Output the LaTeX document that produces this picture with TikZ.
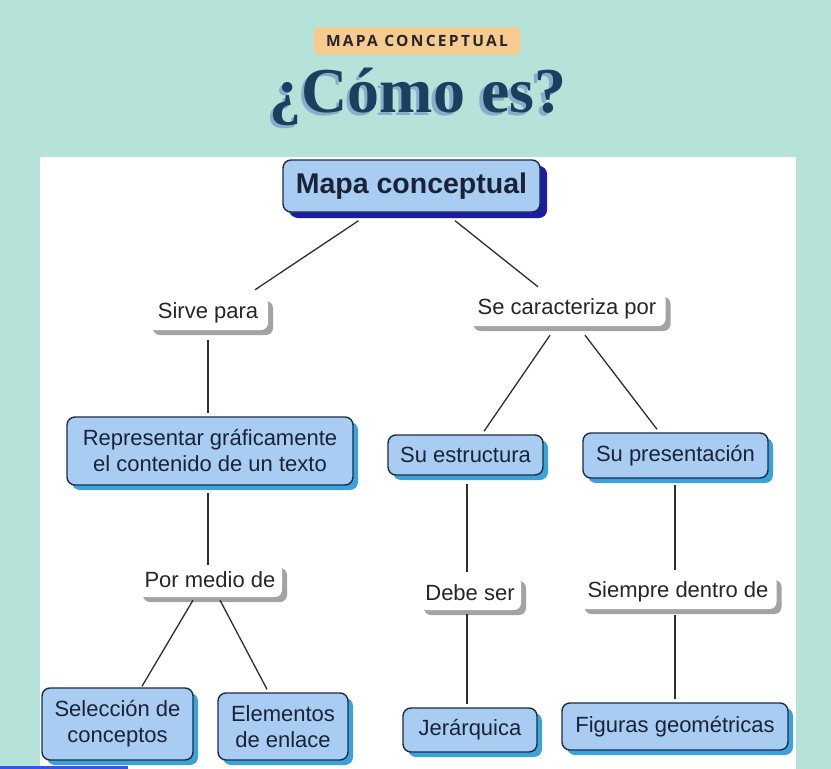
\documentclass[tikz,border=0pt]{standalone}
\usepackage{fontspec}
\setmainfont{Liberation Sans}
\newfontfamily\titlefont{Liberation Serif}
\newfontfamily\badgefont[LetterSpace=15]{Open Sans}
\usetikzlibrary{shadows}
\definecolor{mint}{HTML}{B5E3DA}
\definecolor{badge}{HTML}{F6CB92}
\definecolor{navy}{HTML}{1B3F5E}
\definecolor{navyshade}{HTML}{86AECB}
\definecolor{boxfill}{HTML}{A9CDF2}
\definecolor{boxline}{HTML}{1E2B45}
\definecolor{boxtext}{HTML}{1A2238}
\definecolor{topshadow}{HTML}{1C1CA0}
\definecolor{cshadow}{HTML}{3AA3DC}
\definecolor{lshadow}{HTML}{A3A3A3}
\definecolor{linecol}{HTML}{2E2E2E}
\definecolor{barblue}{HTML}{3355F0}

\begin{document}
\begin{tikzpicture}[x=1pt,y=-1pt,
  concept/.style={draw=boxline, line width=1.4pt, fill=boxfill, rounded corners=8pt,
    align=center, text=boxtext, inner sep=0pt, font=\fontsize{22}{26}\selectfont,
    drop shadow={shadow xshift=5pt, shadow yshift=-5pt, fill=cshadow, opacity=1}},
  linkword/.style={fill=white, rounded corners=7pt, inner sep=0pt, text=black!85,
    font=\fontsize{22}{26}\selectfont,
    drop shadow={shadow xshift=5pt, shadow yshift=-5pt, fill=lshadow, opacity=1}},
  joint/.style={draw=linecol, line width=1.3pt}]

% background and panel
\useasboundingbox (0,0) rectangle (831,769);
\fill[mint] (0,0) rectangle (831,769);
\fill[white] (40,157) rectangle (796,769);
\fill[barblue] (0,766) rectangle (128,769);

% heading
\node[fill=badge, rounded corners=5pt, minimum width=207pt, minimum height=28pt,
  inner sep=0pt, text=black!85, font=\badgefont\bfseries\fontsize{15.5}{17}\selectfont]
  (badge) at (417,41) {MAPA CONCEPTUAL};
\node[text=navyshade, font=\titlefont\bfseries\fontsize{64}{72}\selectfont]
  (titleshade) at (414.5,100) {¿Cómo es?};
\node[text=navy, font=\titlefont\bfseries\fontsize{64}{72}\selectfont]
  (title) at (418,97) {¿Cómo es?};

% concepts
\node[concept, minimum width=257pt, minimum height=52pt, font=\bfseries\fontsize{28.5}{32}\selectfont,
  drop shadow={shadow xshift=7pt, shadow yshift=-6pt, fill=topshadow, opacity=1}]
  (mapa) at (411.5,186) {Mapa conceptual};
\node[concept, minimum width=286pt, minimum height=68pt] (repr) at (210,451)
  {Representar gráficamente\\el contenido de un texto};
\node[concept, minimum width=155pt, minimum height=40pt] (estruc) at (465.5,455) {Su estructura};
\node[concept, minimum width=185pt, minimum height=45pt] (presen) at (675.5,455.5) {Su presentación};
\node[concept, minimum width=151pt, minimum height=72pt] (selec) at (117.5,724)
  {Selección de\\conceptos};
\node[concept, minimum width=130pt, minimum height=67pt] (enlace) at (283,726.5)
  {Elementos\\de enlace};
\node[concept, minimum width=134pt, minimum height=44pt] (jerar) at (470,730) {Jerárquica};
\node[concept, minimum width=226pt, minimum height=47pt] (figuras) at (675,726.5) {Figuras geométricas};

% linking words
\node[linkword, minimum width=120pt, minimum height=34pt] (sirve) at (208,313) {Sirve para};
\node[linkword, minimum width=197pt, minimum height=34pt] (caract) at (567,309) {Se caracteriza por};
\node[linkword, minimum width=144pt, minimum height=34pt] (medio) at (210,580) {Por medio de};
\node[linkword, minimum width=102pt, minimum height=34pt] (debe) at (470,593) {Debe ser};
\node[linkword, minimum width=197pt, minimum height=34pt] (siempre) at (678,592) {Siempre dentro de};

% connectors
\draw[joint] ([xshift=-53pt,yshift=-8pt]mapa.south) -- ([xshift=47pt,yshift=6pt]sirve.north);
\draw[joint] ([xshift=43.5pt,yshift=-8pt]mapa.south) -- ([xshift=-29pt,yshift=5pt]caract.north);
\draw[joint] ([yshift=-10pt]sirve.south) -- ([xshift=-2pt,yshift=3pt]repr.north);
\draw[joint] ([xshift=-17pt,yshift=-9pt]caract.south) -- ([xshift=18.5pt,yshift=3pt]estruc.north);
\draw[joint] ([xshift=18pt,yshift=-9pt]caract.south) -- ([xshift=-18.5pt,yshift=3pt]presen.north);
\draw[joint] ([xshift=-2pt,yshift=-7pt]repr.south) -- ([xshift=-2pt,yshift=-2pt]medio.north);
\draw[joint] ([xshift=-17pt,yshift=-3pt]medio.south) -- ([xshift=24.5pt,yshift=1pt]selec.north);
\draw[joint] ([xshift=10pt,yshift=-3pt]medio.south) -- ([xshift=-16pt,yshift=3pt]enlace.north);
\draw[joint] ([xshift=1.5pt,yshift=-8pt]estruc.south) -- ([xshift=-3pt,yshift=4pt]debe.north);
\draw[joint] ([xshift=-3pt,yshift=-4pt]debe.south) -- ([xshift=-3pt,yshift=3pt]jerar.north);
\draw[joint] ([xshift=-0.5pt,yshift=-6pt]presen.south) -- ([xshift=-3pt,yshift=5pt]siempre.north);
\draw[joint] ([xshift=-3pt,yshift=-6pt]siempre.south) -- ([yshift=3pt]figuras.north);

\end{tikzpicture}
\end{document}
